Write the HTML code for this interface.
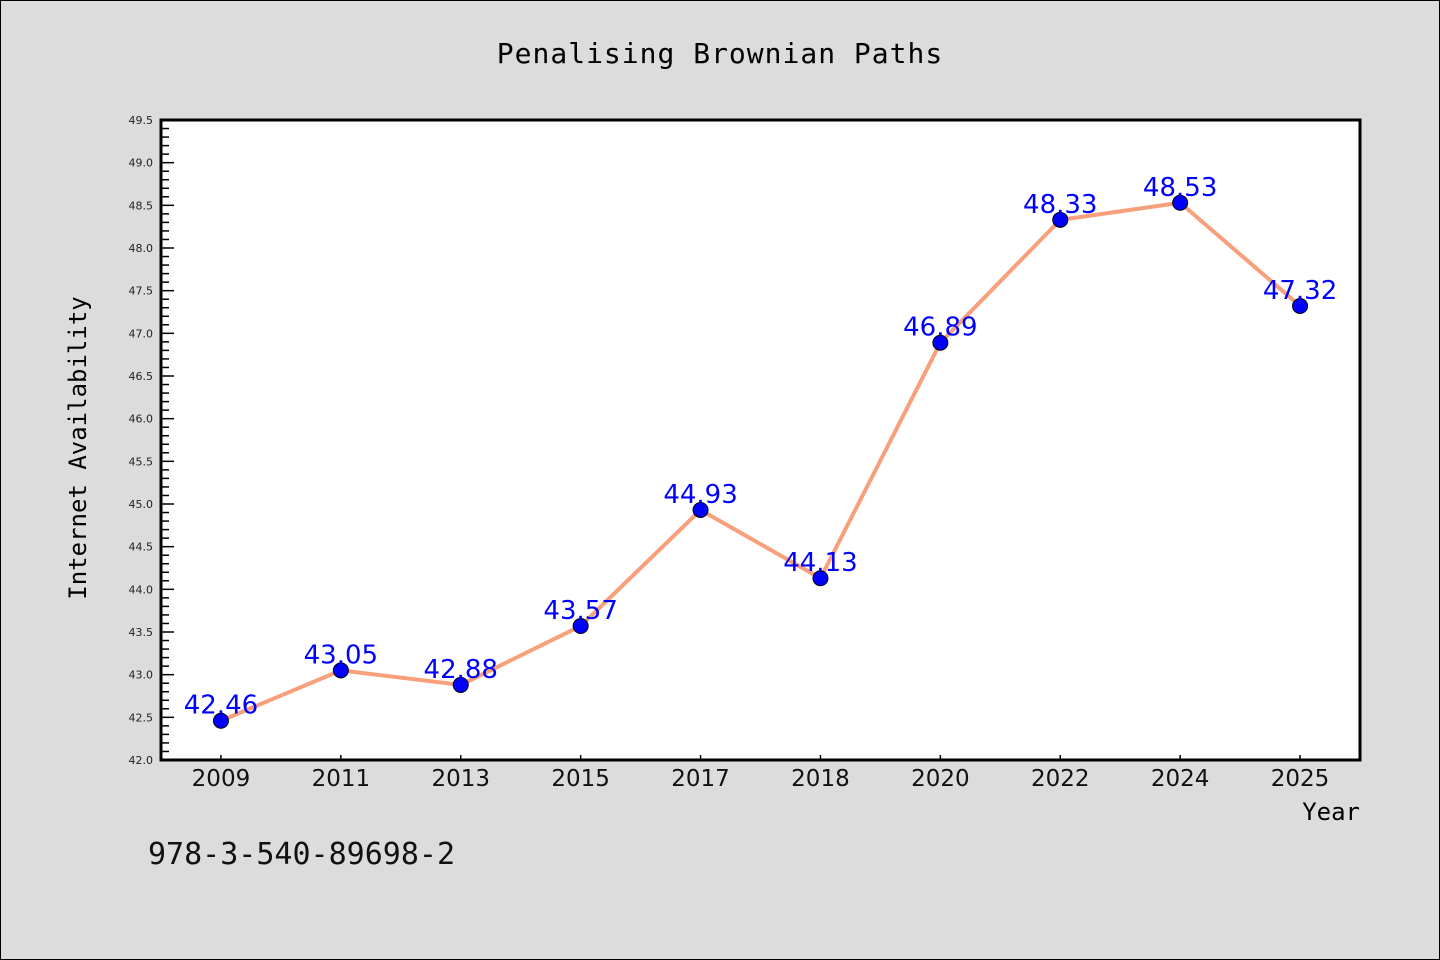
<!DOCTYPE html>
<html><head><meta charset="utf-8"><style>
body{margin:0;background:#dcdcdc;}
svg{display:block;font-family:"DejaVu Sans","Liberation Sans",sans-serif;}
</style></head><body>
<svg id="chart" width="1440" height="960">
<rect x="0.5" y="0.5" width="1439" height="959" fill="#dcdcdc" stroke="#000"/>
<text x="720" y="63" text-anchor="middle" font-size="28" font-family="DejaVu Sans Mono, monospace" letter-spacing="1">Penalising Brownian Paths</text>
<rect x="161" y="120" width="1199" height="640" fill="#fff"/>
<g id="yaxis"></g><g id="xaxis"></g><g id="series"></g>
<rect x="161" y="120" width="1199" height="640" fill="none" stroke="#000" stroke-width="3"/>
<text x="86" y="448" text-anchor="middle" font-size="24" font-family="DejaVu Sans Mono, monospace" transform="rotate(-90 86 448)">Internet Availability</text>
<text x="1360" y="820" text-anchor="end" font-size="24" font-family="DejaVu Sans Mono, monospace">Year</text>
<text x="148" y="864" font-size="30" font-family="DejaVu Sans Mono, monospace" fill="#111">978-3-540-89698-2</text>
</svg>
<script>
const categories=["2009","2011","2013","2015","2017","2018","2020","2022","2024","2025"];
const values=[42.46,43.05,42.88,43.57,44.93,44.13,46.89,48.33,48.53,47.32];
const valueLabels=["42.46","43.05","42.88","43.57","44.93","44.13","46.89","48.33","48.53","47.32"];
const yMin=42.0,yMax=49.5,yStep=0.5;
const NS="http://www.w3.org/2000/svg";
const L=161,R=1360,T=120,B=760;
function xS(i){return L+(R-L)/categories.length*(i+0.5);}
function yS(v){return B-(v-yMin)/(yMax-yMin)*(B-T);}
function mk(t,a,p){const e=document.createElementNS(NS,t);for(const k in a)e.setAttribute(k,a[k]);p.appendChild(e);return e;}
const ya=document.getElementById('yaxis');
for(let k=0;k<=Math.round((yMax-yMin)/0.1);k++){
 const v=yMin+k*0.1,y=yS(v),major=k%5===0;
 const t=mk('line',{x1:L,x2:L+(major?13:8),y1:y,y2:y,stroke:'#000','stroke-width':1.5},ya);
 
 
 if(major){const tx=mk('text',{x:L-8,y:y+4,'text-anchor':'end','font-size':11,fill:'#222'},ya);tx.textContent=v.toFixed(1);
 
 }
}
const xa=document.getElementById('xaxis');
categories.forEach((c,i)=>{
 const x=xS(i);
 const t=mk('line',{x1:x,x2:x,y1:B-5,y2:B,stroke:'#000','stroke-width':1.5},xa);
 
 
 const tx=mk('text',{x:x,y:B+26,'text-anchor':'middle','font-size':23,fill:'#111'},xa);tx.textContent=c;
 
 
});
const s=document.getElementById('series');
const pl=mk('polyline',{points:values.map((v,i)=>xS(i)+','+yS(v)).join(' '),fill:'none',stroke:'#f89f7c','stroke-width':4,'stroke-linejoin':'round'},s);


values.forEach((v,i)=>{
 const c=mk('circle',{cx:xS(i),cy:yS(v),r:7.5,fill:'#0000ff',stroke:'#000','stroke-width':1},s);
 
 
 const tx=mk('text',{x:xS(i),y:yS(v)-7,'text-anchor':'middle','font-size':26,fill:'#0000ff'},s);tx.textContent=valueLabels[i];
 
 
});
</script>
</body></html>
